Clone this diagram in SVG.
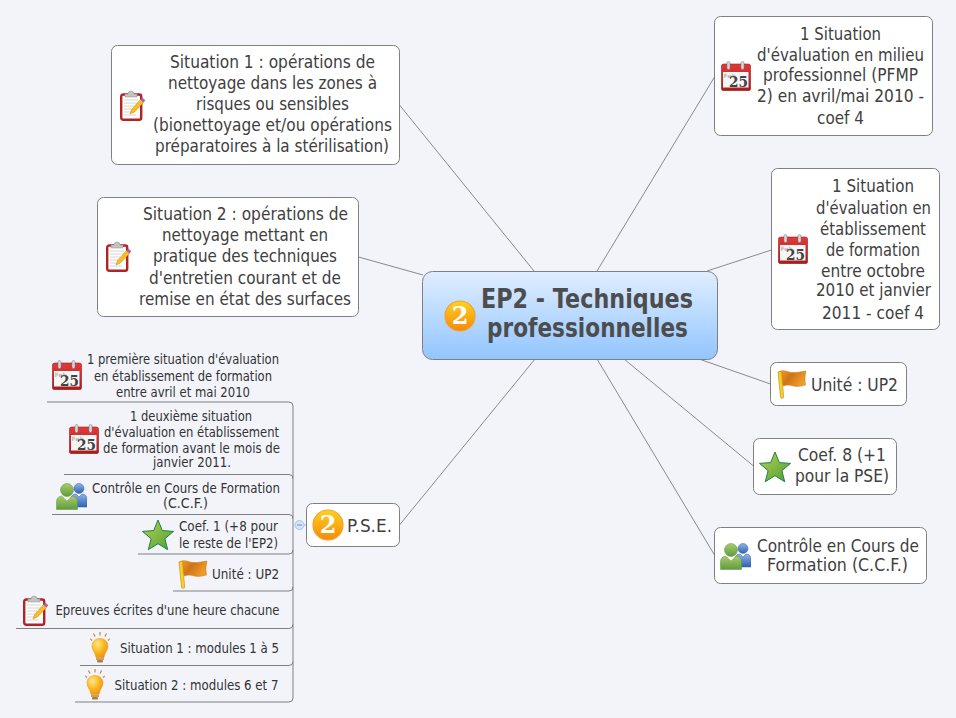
<svg xmlns="http://www.w3.org/2000/svg" width="956" height="718" viewBox="0 0 956 718">
<style>
.n{fill:#fff;stroke:#808080;stroke-width:1}
.c{fill:none;stroke:#8a8a8a;stroke-width:1}
.b{fill:none;stroke:#808080;stroke-width:1}
text{font-family:"DejaVu Sans","Liberation Sans",sans-serif;fill:#404040}
.l{font-size:17px}
.s{font-size:13.2px;fill:#333}
.m{font-size:27px;font-weight:bold;fill:#4d4d4d}
.d{font-family:"DejaVu Serif","Liberation Serif",serif;font-weight:bold}
</style>
<defs>
<linearGradient id="gc" x1="0" y1="0" x2="0" y2="1"><stop offset="0" stop-color="#e0eeff"/><stop offset="1" stop-color="#92c5ff"/></linearGradient>
<linearGradient id="gcal" x1="0" y1="0" x2="0" y2="1"><stop offset="0" stop-color="#e23a3a"/><stop offset="1" stop-color="#a81c1c"/></linearGradient>
<linearGradient id="gstar" x1="0" y1="0" x2="1" y2="1"><stop offset="0" stop-color="#b6d257"/><stop offset="1" stop-color="#4d9e32"/></linearGradient>
<linearGradient id="gflag" x1="0" y1="0" x2="1" y2="0.4"><stop offset="0" stop-color="#f5a623"/><stop offset="0.5" stop-color="#cf7418"/><stop offset="1" stop-color="#ee9b28"/></linearGradient>
<linearGradient id="gnum" x1="0" y1="0" x2="0" y2="1"><stop offset="0" stop-color="#ffd21e"/><stop offset="1" stop-color="#f58a0a"/></linearGradient>
<radialGradient id="gbulb" cx="0.35" cy="0.3" r="0.8"><stop offset="0" stop-color="#ffe98a"/><stop offset="0.5" stop-color="#fcb820"/><stop offset="1" stop-color="#ed8a10"/></radialGradient>
<linearGradient id="gug" x1="0" y1="0" x2="0" y2="1"><stop offset="0" stop-color="#a9cc6a"/><stop offset="1" stop-color="#5f9c3c"/></linearGradient>
<linearGradient id="gub" x1="0" y1="0" x2="0" y2="1"><stop offset="0" stop-color="#8fb4e8"/><stop offset="1" stop-color="#2f62b0"/></linearGradient>
<symbol id="cal" viewBox="0 0 30 30">
<rect x="0.3" y="3" width="29.400" height="26.700" rx="2.500" fill="url(#gcal)" stroke="#a02020" stroke-width="0.600"/>
<rect x="2" y="11" width="25.500" height="15.500" fill="#f6f6f6"/>
<rect x="6" y="0.500" width="3" height="8" rx="1.500" fill="#d8d8d8" stroke="#777" stroke-width="0.500"/>
<rect x="20" y="0.500" width="3" height="8" rx="1.500" fill="#d8d8d8" stroke="#777" stroke-width="0.500"/>
<text x="2.500" y="16.500" font-size="6" style="fill:#bbb;font-weight:bold">Feb</text>
<text class="d" x="8" y="26" font-size="15" textLength="19" lengthAdjust="spacingAndGlyphs" style="fill:#444">25</text>
</symbol>
<symbol id="task" viewBox="0 0 26 31">
<rect x="1.200" y="4.500" width="20" height="25.300" rx="2" fill="#fff" stroke="#b22424" stroke-width="2.400"/>
<path d="M5 7v-3h3a3 3 0 0 1 6 0h3v3z" fill="#c4c4c4" stroke="#8c8c8c" stroke-width="0.500"/>
<path d="M4 10h14M4 13h14M4 16h10M4 19h8M4 22h8M4 25h12" stroke="#cfcfcf" stroke-width="0.900"/>
<path d="M10 24l1.500-4.500 9-10 3 3-9 9.500z" fill="#f6bf27" stroke="#c98512" stroke-width="0.500"/>
<path d="M20.500 9.500l1.800-2 3 2.800-1.800 2.200z" fill="#b25fb3"/>
</symbol>
<symbol id="star" viewBox="0 0 32 32">
<path d="M16 1l4.300 10.600 11.200.8-8.600 7.300 2.800 11-9.700-6-9.700 6 2.800-11L.5 12.400l11.200-.8z" fill="url(#gstar)" stroke="#1e8246" stroke-width="1" stroke-linejoin="round"/>
</symbol>
<symbol id="flag" viewBox="0 0 30 30">
<path d="M1 3C7 0 10 3 15 3.500c5 .5 9-1 14-1.500-1 4-1.500 9-.5 14-4 1-8 2-12 1-4-1-7-1.500-10 0z" fill="url(#gflag)" stroke="#c4761a" stroke-width="0.500"/>
<path d="M1 3.500L3.500 28.500c.2 1.200 3.300 1 3.200-.3L4.500 3C3.800 2 2 2.500 1 3.500z" fill="#f7d02c" stroke="#c08a10" stroke-width="0.600"/>
</symbol>
<symbol id="users" viewBox="0 0 31 28">
<circle cx="23" cy="6.500" r="5" fill="url(#gub)" stroke="#2f62b0" stroke-width="0.500"/>
<path d="M15 25v-8c0-3 2-5 5-5l3 3 3-3c3 0 5 2 5 5v8z" fill="url(#gub)" stroke="#2f62b0" stroke-width="0.500"/>
<circle cx="11" cy="8" r="6.500" fill="url(#gug)" stroke="#5f9040" stroke-width="0.500"/>
<path d="M.5 27.500v-8c0-3 2-5 5-5.500l5.500 4.500 5.500-4.500c3 .5 5 2.500 5 5.500v8z" fill="url(#gug)" stroke="#5f9040" stroke-width="0.500"/>
<path d="M7.500 15.500l3.500 3 3.500-3-3.500 1.200z" fill="#fff"/>
</symbol>
<symbol id="bulb" viewBox="0 0 20 31">
<path d="M10 3.500V0M5 4.500L3.500 1.500M15 4.500l1.500-3M2 8.500L.3 6.800M18 8.500l1.700-1.700" stroke="#b98a3a" stroke-width="1.200"/>
<path d="M10 6.500c4.500 0 8 3 8 7.500 0 4-3 6-4 11.500H6c-1-5.500-4-7.500-4-11.500 0-4.500 3.500-7.500 8-7.500z" fill="url(#gbulb)" stroke="#e89a18" stroke-width="0.500"/>
<rect x="6" y="25.500" width="8" height="2.500" fill="#caa15c"/>
<rect x="7" y="28" width="6" height="2.500" rx="1" fill="#a87f3c"/>
</symbol>
<symbol id="num" viewBox="0 0 32 32">
<circle cx="16" cy="16" r="15" fill="url(#gnum)" stroke="#f0a030" stroke-width="1.200"/>
<text class="d" x="16" y="24" font-size="24" text-anchor="middle" style="fill:#fff">2</text>
</symbol>
</defs>
<rect width="956" height="718" fill="#f2f4fa"/>
<g id="connectors">
<path class="c" d="M399.500 105L534 271M358.500 257L423 275M714.500 77L597 271M771.500 250L707 271M770.500 384L699 359M753.500 466L624 359M714.500 555L597 359M399.500 525L535 359"/>
<path class="b" d="M47 402H289a4 4 0 0 1 4 4V698a4 4 0 0 1-4 4H75M64 474.500H289a4 4 0 0 1 4 4M52 514.500H289a4 4 0 0 1 4 4M138 554H289a4 4 0 0 0 4-4M173 591H289a4 4 0 0 0 4-4M16 628.500H289a4 4 0 0 0 4-4M80 665.500H289a4 4 0 0 0 4-4"/>
<path d="M304 525h2.500" stroke="#9ab8dc" stroke-width="1"/>
<circle cx="299.500" cy="525" r="4.500" fill="#d4e4fa" stroke="#a8c4e8" stroke-width="1"/>
<path d="M297 525h5" stroke="#6f94c8" stroke-width="1"/>
</g>
<g id="central">
<rect x="422.500" y="271.500" width="295" height="88" rx="10" fill="url(#gc)" stroke="#808080"/>
<use href="#num" x="444" y="300" width="32" height="32"/>
<text class="m" x="481" y="308" textLength="212" lengthAdjust="spacingAndGlyphs">EP2 - Techniques</text>
<text class="m" x="487" y="337" textLength="201" lengthAdjust="spacingAndGlyphs">professionnelles</text>
</g>
<g id="s1">
<rect class="n" x="111.500" y="45.500" width="288" height="119" rx="6"/>
<use href="#task" x="120" y="90" width="26" height="31"/>
<text class="l" x="170" y="68" textLength="205" lengthAdjust="spacingAndGlyphs">Situation 1 : opérations de</text>
<text class="l" x="168" y="89" textLength="209" lengthAdjust="spacingAndGlyphs">nettoyage dans les zones à</text>
<text class="l" x="196" y="110" textLength="153" lengthAdjust="spacingAndGlyphs">risques ou sensibles</text>
<text class="l" x="153" y="131" textLength="239" lengthAdjust="spacingAndGlyphs">(bionettoyage et/ou opérations</text>
<text class="l" x="155" y="152" textLength="234" lengthAdjust="spacingAndGlyphs">préparatoires à la stérilisation)</text>
</g>
<g id="s2">
<rect class="n" x="97.500" y="197.500" width="261" height="119" rx="6"/>
<use href="#task" x="106" y="241" width="26" height="31"/>
<text class="l" x="143" y="220" textLength="205" lengthAdjust="spacingAndGlyphs">Situation 2 : opérations de</text>
<text class="l" x="162" y="241" textLength="166" lengthAdjust="spacingAndGlyphs">nettoyage mettant en</text>
<text class="l" x="153" y="262" textLength="184" lengthAdjust="spacingAndGlyphs">pratique des techniques</text>
<text class="l" x="149" y="284" textLength="192" lengthAdjust="spacingAndGlyphs">d'entretien courant et de</text>
<text class="l" x="139" y="305" textLength="212" lengthAdjust="spacingAndGlyphs">remise en état des surfaces</text>
</g>
<g id="r1">
<rect class="n" x="714.500" y="16.500" width="218" height="119" rx="6"/>
<use href="#cal" x="721" y="61" width="30" height="30"/>
<text class="l" x="800" y="40" textLength="81" lengthAdjust="spacingAndGlyphs">1 Situation</text>
<text class="l" x="757" y="61" textLength="167" lengthAdjust="spacingAndGlyphs">d'évaluation en milieu</text>
<text class="l" x="763" y="81" textLength="155" lengthAdjust="spacingAndGlyphs">professionnel (PFMP</text>
<text class="l" x="757" y="102" textLength="167" lengthAdjust="spacingAndGlyphs">2) en avril/mai 2010 -</text>
<text class="l" x="817" y="124" textLength="47" lengthAdjust="spacingAndGlyphs">coef 4</text>
</g>
<g id="r2">
<rect class="n" x="771.500" y="168.500" width="168" height="161" rx="6"/>
<use href="#cal" x="778" y="234" width="30" height="30"/>
<text class="l" x="832" y="192" textLength="82" lengthAdjust="spacingAndGlyphs">1 Situation</text>
<text class="l" x="816" y="214" textLength="115" lengthAdjust="spacingAndGlyphs">d'évaluation en</text>
<text class="l" x="820" y="235" textLength="106" lengthAdjust="spacingAndGlyphs">établissement</text>
<text class="l" x="826" y="256" textLength="94" lengthAdjust="spacingAndGlyphs">de formation</text>
<text class="l" x="821" y="277" textLength="104" lengthAdjust="spacingAndGlyphs">entre octobre</text>
<text class="l" x="816" y="296" textLength="115" lengthAdjust="spacingAndGlyphs">2010 et janvier</text>
<text class="l" x="822" y="319" textLength="102" lengthAdjust="spacingAndGlyphs">2011 - coef 4</text>
</g>
<g id="r3">
<rect class="n" x="770.500" y="362.500" width="136" height="43" rx="6"/>
<use href="#flag" x="777" y="369" width="30" height="30"/>
<text class="l" x="811" y="391" textLength="87" lengthAdjust="spacingAndGlyphs">Unité : UP2</text>
</g>
<g id="r4">
<rect class="n" x="753.500" y="438.500" width="143" height="56" rx="6"/>
<use href="#star" x="759" y="451" width="32" height="32"/>
<text class="l" x="798" y="461" textLength="88" lengthAdjust="spacingAndGlyphs">Coef. 8 (+1</text>
<text class="l" x="795" y="482" textLength="94" lengthAdjust="spacingAndGlyphs">pour la PSE)</text>
</g>
<g id="r5">
<rect class="n" x="714.500" y="527.500" width="212" height="56" rx="6"/>
<use href="#users" x="720" y="542" width="31" height="28"/>
<text class="l" x="757" y="552" textLength="162" lengthAdjust="spacingAndGlyphs">Contrôle en Cours de</text>
<text class="l" x="767" y="571" textLength="141" lengthAdjust="spacingAndGlyphs">Formation (C.C.F.)</text>
</g>
<g id="pse">
<rect class="n" x="306.500" y="503.500" width="93" height="43" rx="6"/>
<use href="#num" x="312" y="509" width="32" height="32"/>
<text class="l" x="347" y="532" textLength="45" lengthAdjust="spacingAndGlyphs">P.S.E.</text>
</g>
<g id="p1">
<use href="#cal" x="52" y="360" width="30" height="30"/>
<text class="s" x="87" y="364" textLength="192" lengthAdjust="spacingAndGlyphs">1 première situation d'évaluation</text>
<text class="s" x="94" y="381" textLength="178" lengthAdjust="spacingAndGlyphs">en établissement de formation</text>
<text class="s" x="116" y="397" textLength="134" lengthAdjust="spacingAndGlyphs">entre avril et mai 2010</text>
</g>
<g id="p2">
<use href="#cal" x="69" y="424" width="30" height="30"/>
<text class="s" x="130" y="421" textLength="122" lengthAdjust="spacingAndGlyphs">1 deuxième situation</text>
<text class="s" x="104" y="437" textLength="175" lengthAdjust="spacingAndGlyphs">d'évaluation en établissement</text>
<text class="s" x="103" y="453" textLength="177" lengthAdjust="spacingAndGlyphs">de formation avant le mois de</text>
<text class="s" x="153" y="467" textLength="78" lengthAdjust="spacingAndGlyphs">janvier 2011.</text>
</g>
<g id="p3">
<use href="#users" x="56" y="482" width="31" height="28"/>
<text class="s" x="92" y="493" textLength="188" lengthAdjust="spacingAndGlyphs">Contrôle en Cours de Formation</text>
<text class="s" x="163" y="508" textLength="45" lengthAdjust="spacingAndGlyphs">(C.C.F.)</text>
</g>
<g id="p4">
<use href="#star" x="142" y="519" width="32" height="32"/>
<text class="s" x="179" y="531" textLength="99" lengthAdjust="spacingAndGlyphs">Coef. 1 (+8 pour</text>
<text class="s" x="179" y="548" textLength="99" lengthAdjust="spacingAndGlyphs">le reste de l'EP2)</text>
</g>
<g id="p5">
<use href="#flag" x="178" y="559" width="30" height="30"/>
<text class="s" x="212" y="579" textLength="67" lengthAdjust="spacingAndGlyphs">Unité : UP2</text>
</g>
<g id="p6">
<use href="#task" x="23" y="595" width="26" height="31"/>
<text class="s" x="55.500" y="615" textLength="224" lengthAdjust="spacingAndGlyphs">Epreuves écrites d'une heure chacune</text>
</g>
<g id="p7">
<use href="#bulb" x="90" y="632" width="20" height="31"/>
<text class="s" x="120" y="653" textLength="159" lengthAdjust="spacingAndGlyphs">Situation 1 : modules 1 à 5</text>
</g>
<g id="p8">
<use href="#bulb" x="85" y="669" width="20" height="31"/>
<text class="s" x="114.500" y="690" textLength="164" lengthAdjust="spacingAndGlyphs">Situation 2 : modules 6 et 7</text>
</g>
</svg>
